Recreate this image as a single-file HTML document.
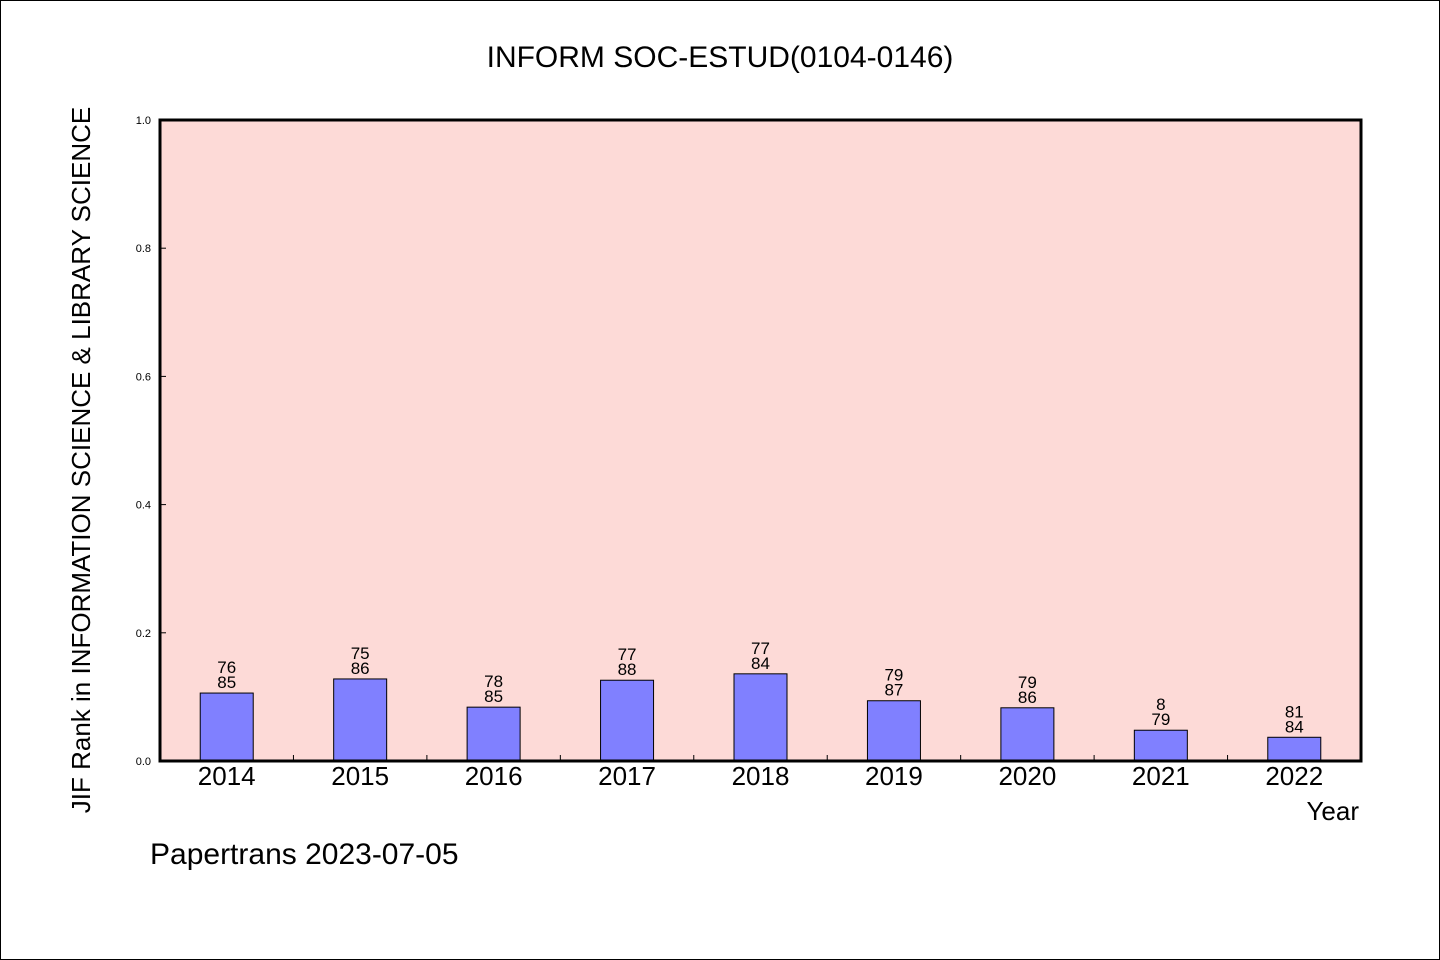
<!DOCTYPE html>
<html><head><meta charset="utf-8"><style>
body{margin:0;background:#fff}
svg{display:block}
text{font-family:"WenQuanYi Zen Hei","Liberation Sans",sans-serif;fill:#000}
</style></head><body>
<svg id="chart" width="1440" height="960" viewBox="0 0 1440 960">
<rect x="0.5" y="0.5" width="1439" height="959" fill="#fff" stroke="#000"/>
<text x="720" y="67" font-size="30" text-anchor="middle">INFORM SOC-ESTUD(0104-0146)</text>
<rect x="160" y="120" width="1201" height="641" fill="#fddad7"/>
<g id="marks"></g>
<rect x="160" y="120" width="1201" height="641" fill="none" stroke="#000" stroke-width="3"/>
<text transform="translate(90,460) rotate(-90)" font-size="26" text-anchor="middle">JIF Rank in INFORMATION SCIENCE &amp; LIBRARY SCIENCE</text>
<text x="1359" y="820" font-size="26" text-anchor="end">Year</text>
<text x="150" y="864" font-size="30">Papertrans 2023-07-05</text>
</svg>
<script>
const years=["2014","2015","2016","2017","2018","2019","2020","2021","2022"];
const values=[0.106,0.128,0.084,0.126,0.136,0.094,0.083,0.048,0.037];
const ranks=["76","75","78","77","77","79","79","8","81"];
const totals=["85","86","85","88","84","87","86","79","84"];
const yTicks=[0,0.2,0.4,0.6,0.8,1.0];
const NS="http://www.w3.org/2000/svg";
const X0=160,X1=1361,Y0=761,Y1=120;
const bw=(X1-X0)/years.length;
const y=v=>Y0-(v)*(Y0-Y1);
const xc=i=>X0+bw*(i+0.5);
const g=document.getElementById('marks');
function mk(t,a){const e=document.createElementNS(NS,t);for(const k in a)e.setAttribute(k,a[k]);g.appendChild(e);return e;}
yTicks.forEach(t=>{
  const l=mk('line',{x1:X0,x2:X0+6,y1:y(t),y2:y(t),stroke:'#000','stroke-width':1});
  
  
  const tx=mk('text',{x:X0-9,y:y(t)+4,'font-size':11,'text-anchor':'end'});
  tx.textContent=t.toFixed(1);
  
  
});
for(let i=1;i<years.length;i++){
  const l=mk('line',{x1:X0+bw*i,x2:X0+bw*i,y1:Y0,y2:Y0-6,stroke:'#000','stroke-width':1});
  
  
}
years.forEach((yr,i)=>{
  const top=y(values[i]);
  const r=mk('rect',{x:xc(i)-26.5,y:top,width:53,height:Y0-top,fill:'#8080ff',stroke:'#000','stroke-width':1});
  
  
  const a=mk('text',{x:xc(i),y:top-20,'font-size':17,'text-anchor':'middle'});
  a.textContent=ranks[i];
  
  
  const b=mk('text',{x:xc(i),y:top-5,'font-size':17,'text-anchor':'middle'});
  b.textContent=totals[i];
  
  
  const xl=mk('text',{x:xc(i),y:785,'font-size':26,'text-anchor':'middle'});
  xl.textContent=yr;
  
  
});
</script>
</body></html>
